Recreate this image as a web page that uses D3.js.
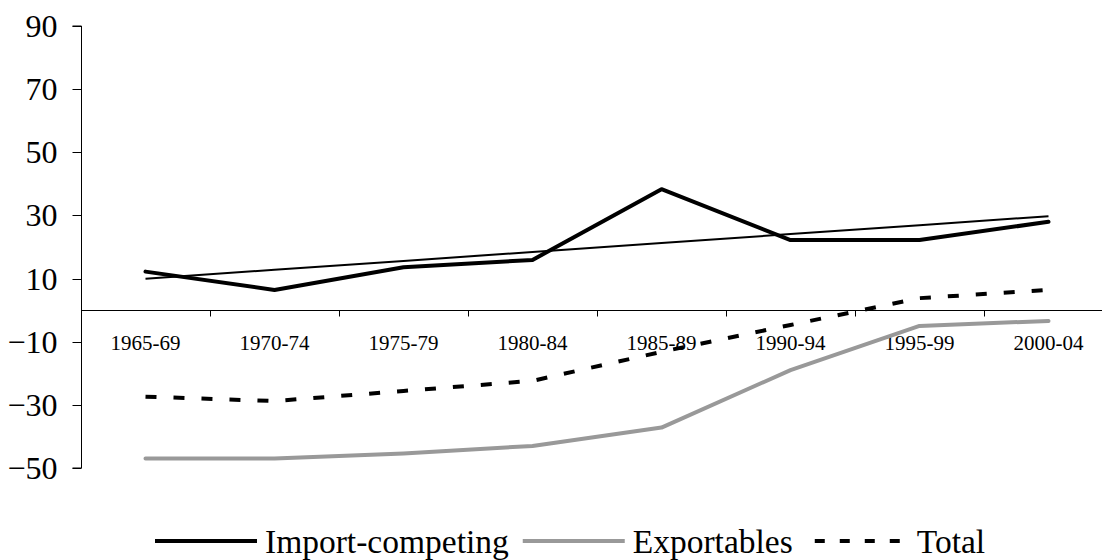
<!DOCTYPE html>
<html><head><meta charset="utf-8">
<script src="https://cdn.jsdelivr.net/npm/d3@7"></script>
<style>html,body{margin:0;padding:0;background:#fff;} svg{display:block;}</style>
</head><body>
<svg id="chart" width="1102" height="560"></svg>
<script>
const categories = ["1965-69","1970-74","1975-79","1980-84","1985-89","1990-94","1995-99","2000-04"];
const importCompeting = [12.2, 6.4, 13.6, 15.9, 38.3, 22.2, 22.2, 28.0];
const exportables = [-47.0, -47.0, -45.4, -43.0, -37.2, -19.0, -5.0, -3.4];
const total = [-27.4, -28.8, -25.6, -22.4, -13.2, -4.7, 3.8, 6.4];
const yTicks = [90, 70, 50, 30, 10, -10, -30, -50];
const legendLabels = ["Import-competing", "Exportables", "Total"];

const svg = d3.select("#chart");
const W = 1102, H = 560;
svg.append("rect").attr("width", W).attr("height", H).attr("fill", "#fff");

const x = d3.scaleBand().domain(categories).range([81, 1113]).padding(0);
const y = d3.scaleLinear().domain([-50, 90]).range([468, 26]);
const cx = c => x(c) + x.bandwidth() / 2;

// Y axis
const yAxis = d3.axisLeft(y).tickValues(yTicks).tickSize(9).tickPadding(15).tickFormat(d3.format("d"));
const gy = svg.append("g").attr("transform", "translate(81.5,0)").call(yAxis);
gy.select(".domain").attr("stroke", "#000").attr("stroke-width", 1).attr("d", `M-9,${y(90)}H0V${y(-50)}H-9`);
gy.selectAll(".tick line").attr("stroke", "#000");
gy.selectAll(".tick text").attr("font-family", "'Liberation Serif', 'Times New Roman', serif").attr("font-size", 32).attr("fill", "#000");
gy.selectAll(".tick").attr("transform", d => `translate(0,${Math.round(y(d)) + 0.5})`);

// X axis at zero
const y0 = Math.round(y(0)) + 0.5;
const gx = svg.append("g").attr("transform", `translate(0,${y0})`);
gx.append("line").attr("x1", 81).attr("x2", W).attr("stroke", "#000").attr("stroke-width", 1);
gx.selectAll("line.tk").data(categories.slice(1)).enter().append("line").attr("class", "tk")
  .attr("x1", d => Math.round(x(d)) + 0.5).attr("x2", d => Math.round(x(d)) + 0.5)
  .attr("y1", 0).attr("y2", 6).attr("stroke", "#000").attr("stroke-width", 1);
svg.append("g").selectAll("text").data(categories).enter().append("text")
  .attr("x", d => cx(d)).attr("y", 350).attr("text-anchor", "middle")
  .attr("font-family", "'Liberation Serif', 'Times New Roman', serif").attr("font-size", 21).attr("fill", "#000")
  .text(d => d);

// Trend line (linear regression of import-competing)
const n = importCompeting.length;
const xs = d3.range(1, n + 1);
const mx = d3.mean(xs), my = d3.mean(importCompeting);
const slope = d3.sum(xs, (v, i) => (v - mx) * (importCompeting[i] - my)) / d3.sum(xs, v => (v - mx) ** 2);
const trend = xs.map(v => my + slope * (v - mx));

const line = d3.line().x((d, i) => cx(categories[i])).y(d => y(d));

svg.append("path").datum(trend).attr("d", line).attr("fill", "none").attr("stroke", "#000").attr("stroke-width", 2);
svg.append("path").datum(exportables).attr("d", line).attr("fill", "none").attr("stroke", "#999").attr("stroke-width", 4).attr("stroke-linejoin", "round").attr("stroke-linecap", "round");
svg.append("path").datum(total).attr("d", line).attr("fill", "none").attr("stroke", "#000").attr("stroke-width", 4).attr("stroke-dasharray", "11,17");
svg.append("path").datum(importCompeting).attr("d", line).attr("fill", "none").attr("stroke", "#000").attr("stroke-width", 4).attr("stroke-linejoin", "round").attr("stroke-linecap", "round");

// Legend
const styles = [
  {stroke: "#000", dash: null},
  {stroke: "#999", dash: null},
  {stroke: "#000", dash: "10,15", offset: -8}
];
const lg = svg.append("g");
let lx = 155;
const ly = 541;
legendLabels.forEach((lab, i) => {
  const st = styles[i];
  const l = lg.append("line").attr("x1", lx).attr("x2", lx + 102).attr("y1", ly).attr("y2", ly)
    .attr("stroke", st.stroke).attr("stroke-width", 4);
  if (st.dash) l.attr("stroke-dasharray", st.dash).attr("stroke-dashoffset", st.offset);
  const t = lg.append("text").attr("x", lx + 110).attr("y", 553)
    .attr("font-family", "'Liberation Serif', 'Times New Roman', serif").attr("font-size", 33.5).attr("fill", "#000")
    .text(lab);
  lx = lx + 110 + t.node().getComputedTextLength() + 14;
});
</script>
</body></html>
